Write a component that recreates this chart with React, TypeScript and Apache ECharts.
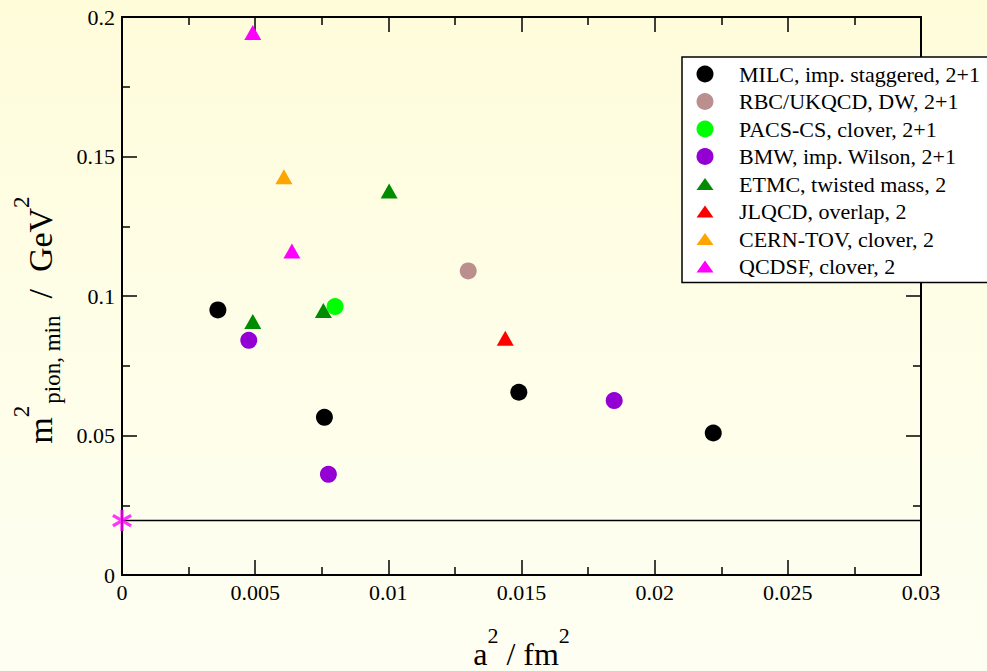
import React, { useEffect, useRef } from 'react';
import * as echarts from 'echarts';

// Axis ranges and tick steps
const X_MIN = 0;
const X_MAX = 0.03;
const X_STEP = 0.005;
const Y_MIN = 0;
const Y_MAX = 0.2;
const Y_STEP = 0.05;

// Lightest pion mass squared (GeV^2) against lattice spacing squared (fm^2)
const MILC_A2 = [0.0036, 0.0076, 0.0149, 0.0222];
const MILC_M2 = [0.095, 0.0565, 0.0655, 0.0509];

const RBC_A2 = [0.013];
const RBC_M2 = [0.109];

const PACS_A2 = [0.008];
const PACS_M2 = [0.0962];

const BMW_A2 = [0.00476, 0.00775, 0.01848];
const BMW_M2 = [0.0841, 0.0361, 0.0625];

const ETMC_A2 = [0.00491, 0.00756, 0.01003];
const ETMC_M2 = [0.0909, 0.0948, 0.1376];

const JLQCD_A2 = [0.01439];
const JLQCD_M2 = [0.0849];

const CERN_A2 = [0.00608];
const CERN_M2 = [0.1427];

const QCDSF_A2 = [0.00491, 0.00638];
const QCDSF_M2 = [0.1944, 0.1161];

// Physical point
const PHYSICAL_A2 = 0;
const PHYSICAL_M2 = 0.0195;

const SERIES_NAMES = [
  'MILC, imp. staggered, 2+1',
  'RBC/UKQCD, DW, 2+1',
  'PACS-CS, clover, 2+1',
  'BMW, imp. Wilson, 2+1',
  'ETMC, twisted mass, 2',
  'JLQCD, overlap, 2',
  'CERN-TOV, clover, 2',
  'QCDSF, clover, 2',
];
const SERIES_COLORS = ['#000000', '#bc8f8f', '#00ff00', '#9400d3', '#008b00', '#ff0000', '#ffa500', '#ff00ff'];
const SERIES_SHAPES = ['circle', 'circle', 'circle', 'circle', 'triangle', 'triangle', 'triangle', 'triangle'];
const SERIES_X = [MILC_A2, RBC_A2, PACS_A2, BMW_A2, ETMC_A2, JLQCD_A2, CERN_A2, QCDSF_A2];
const SERIES_Y = [MILC_M2, RBC_M2, PACS_M2, BMW_M2, ETMC_M2, JLQCD_M2, CERN_M2, QCDSF_M2];

const FONT = "'Liberation Serif', 'Times New Roman', serif";

// visible page size; the chart canvas runs a little wider so the legend box can spill past the right edge
const PAGE_W = 987;
const PAGE_H = 671;
const CHART_W = 1010;

const zip = (xs: number[], ys: number[]) => xs.map((x, i) => [x, ys[i]]);

// six-armed asterisk built from three bars of equal winding
function asteriskPath(): string {
  const L = 1;
  const w = 0.16;
  const angles = [90, 30, 150];
  const parts = angles.map((deg) => {
    const t = (deg * Math.PI) / 180;
    const c = Math.cos(t);
    const s = Math.sin(t);
    const pts = [
      [-L * c - w * -s, -L * s - w * c],
      [L * c - w * -s, L * s - w * c],
      [L * c + w * -s, L * s + w * c],
      [-L * c + w * -s, -L * s + w * c],
    ].map(([px, py]) => [(px + 1) * 10, (py + 1) * 10]);
    return 'M' + pts.map((p) => p[0].toFixed(3) + ',' + p[1].toFixed(3)).join('L') + 'Z';
  });
  return 'path://' + parts.join('');
}

const TRIANGLE_ICON = 'path://M0,12L8.5,0L17,12Z';

// serif label token shared by tick labels and legend entries
const serifRich = {
  t: { fontFamily: FONT, fontSize: 22, lineHeight: 22, color: '#000' },
};

const tickFormatter = (v: number) => `{t|${parseFloat(v.toFixed(4))}}`;

function makeXAxis(position: 'bottom' | 'top', showLabels: boolean) {
  return {
    type: 'value',
    position,
    min: X_MIN,
    max: X_MAX,
    interval: X_STEP,
    axisLine: { show: true, onZero: false, lineStyle: { color: '#000', width: 2 } },
    axisTick: { show: true, inside: true, length: 15, lineStyle: { color: '#000', width: 1.5 } },
    minorTick: { show: true, splitNumber: 2, length: 8, lineStyle: { color: '#000', width: 1.5 } },
    splitLine: { show: false },
    minorSplitLine: { show: false },
    axisLabel: {
      show: showLabels,
      margin: 6,
      color: '#000',
      fontSize: 22,
      fontFamily: FONT,
      formatter: tickFormatter,
      rich: serifRich,
    },
  };
}

function makeYAxis(position: 'left' | 'right', showLabels: boolean) {
  return {
    type: 'value',
    position,
    min: Y_MIN,
    max: Y_MAX,
    interval: Y_STEP,
    axisLine: { show: true, onZero: false, lineStyle: { color: '#000', width: 2 } },
    axisTick: { show: true, inside: true, length: 15, lineStyle: { color: '#000', width: 1.5 } },
    minorTick: { show: true, splitNumber: 2, length: 8, lineStyle: { color: '#000', width: 1.5 } },
    splitLine: { show: false },
    minorSplitLine: { show: false },
    axisLabel: {
      show: showLabels,
      margin: 7,
      color: '#000',
      fontSize: 22,
      fontFamily: FONT,
      formatter: tickFormatter,
      rich: serifRich,
    },
  };
}

const xTitleRich = {
  m: { fontSize: 32, lineHeight: 60, fontFamily: FONT, fill: '#000', verticalAlign: 'middle' },
  sup: { fontSize: 22, lineHeight: 22, fontFamily: FONT, fill: '#000', verticalAlign: 'top', padding: [1.4, 0, 0, 0] },
};

const yTitleRich = {
  m: { fontSize: 34, lineHeight: 62, fontFamily: FONT, fill: '#000', verticalAlign: 'middle' },
  sup: { fontSize: 23, lineHeight: 23, fontFamily: FONT, fill: '#000', verticalAlign: 'top', padding: [0, 2, 0, 0] },
  sub: { fontSize: 23, lineHeight: 23, fontFamily: FONT, fill: '#000', verticalAlign: 'bottom', padding: [0, 0, 8, 0] },
};

export default function App() {
  const ref = useRef<HTMLDivElement>(null);

  useEffect(() => {
    if (!ref.current) return;
    const chart = echarts.init(ref.current, undefined, { renderer: 'svg' });

    const scatterSeries = SERIES_NAMES.map((name, i) => ({
      name,
      type: 'scatter',
      xAxisIndex: 0,
      yAxisIndex: 0,
      symbol: SERIES_SHAPES[i],
      symbolSize: SERIES_SHAPES[i] === 'circle' ? 17 : [17, 15],
      itemStyle: { color: SERIES_COLORS[i], opacity: 1 },
      data: zip(SERIES_X[i], SERIES_Y[i]),
      z: 3,
    }));

    const option = {
      animation: false,
      backgroundColor: 'transparent',
      textStyle: { fontFamily: FONT },
      grid: { left: 122, right: CHART_W - 921, top: 17, bottom: 96, containLabel: false },
      xAxis: [makeXAxis('bottom', true), makeXAxis('top', false)],
      yAxis: [makeYAxis('left', true), makeYAxis('right', false)],
      legend: {
        orient: 'vertical',
        left: 682,
        top: 57,
        padding: [6, 14, 5, 14.5],
        itemGap: 5.5,
        itemWidth: 17,
        itemHeight: 17,
        backgroundColor: '#ffffff',
        borderColor: '#000000',
        borderWidth: 1.5,
        borderRadius: 0,
        selectedMode: false,
        formatter: '{t|{name}}',
        textStyle: {
          color: '#000',
          fontSize: 22,
          lineHeight: 22,
          fontFamily: FONT,
          padding: [0, 0, 0, 20.5],
          rich: serifRich,
        },
        data: SERIES_NAMES.map((name, i) => ({
          name,
          icon: SERIES_SHAPES[i] === 'circle' ? 'circle' : TRIANGLE_ICON,
        })),
      },
      graphic: [
        {
          type: 'text',
          x: 521.5,
          y: 653.5,
          style: {
            text: '{m|a}{sup|2}{m| / fm}{sup|2}',
            rich: xTitleRich,
            align: 'center',
            verticalAlign: 'middle',
            fontFamily: FONT,
          },
        },
        {
          type: 'text',
          x: 40.5,
          y: 319,
          rotation: Math.PI / 2,
          style: {
            text: '{m|m}{sup|2}{sub|pion, min}{m|  /  GeV}{sup|2}',
            rich: yTitleRich,
            align: 'center',
            verticalAlign: 'middle',
            fontFamily: FONT,
          },
        },
      ],
      series: [
        {
          name: 'physical',
          type: 'line',
          data: [
            [X_MIN, PHYSICAL_M2],
            [X_MAX, PHYSICAL_M2],
          ],
          showSymbol: false,
          symbol: 'none',
          lineStyle: { color: '#000', width: 1.5 },
          z: 2,
          silent: true,
        },
        {
          name: 'physical point',
          type: 'scatter',
          data: [[PHYSICAL_A2, PHYSICAL_M2]],
          symbol: asteriskPath(),
          symbolSize: 21,
          symbolKeepAspect: true,
          itemStyle: { color: '#ff00ff' },
          z: 4,
        },
        ...scatterSeries,
      ],
    };

    chart.setOption(option as any);
    return () => chart.dispose();
  }, []);

  return (
    <div
      style={{
        position: 'fixed',
        left: 0,
        top: 0,
        width: PAGE_W,
        height: PAGE_H,
        overflow: 'hidden',
        background: 'linear-gradient(to bottom, #fffcda 0%, #fefee9 55%, #fefef3 100%)',
      }}
    >
      <div ref={ref} style={{ width: CHART_W, height: PAGE_H }} />
    </div>
  );
}
